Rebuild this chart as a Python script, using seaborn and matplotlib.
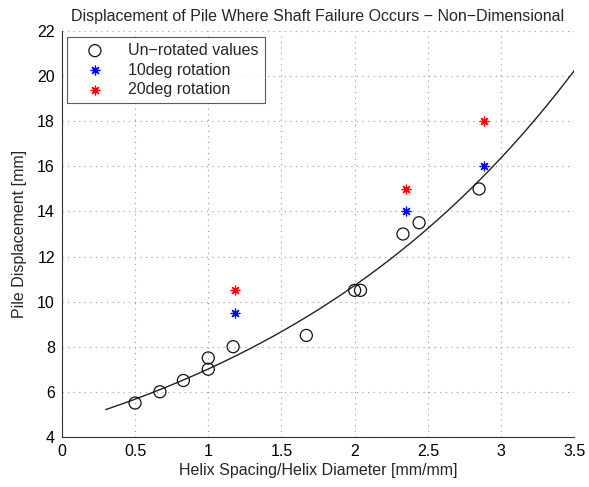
import numpy as np
import pandas as pd
import matplotlib
matplotlib.use("Agg")
import matplotlib.pyplot as plt
import seaborn as sns

# Data
unrot_x = [0.50, 0.67, 0.83, 1.00, 1.00, 1.17, 1.67, 2.00, 2.04, 2.33, 2.44, 2.85]
unrot_y = [5.5, 6.0, 6.5, 7.0, 7.5, 8.0, 8.5, 10.5, 10.5, 13.0, 13.5, 15.0]
rot10_x = [1.18, 2.35, 2.88]
rot10_y = [9.5, 14.0, 16.0]
rot20_x = [1.18, 2.35, 2.88]
rot20_y = [10.5, 15.0, 18.0]
fit_range = [0.3, 3.5]

title = "Displacement of Pile Where Shaft Failure Occurs \u2212 Non\u2212Dimensional"
xlabel = "Helix Spacing/Helix Diameter [mm/mm]"
ylabel = "Pile Displacement [mm]"
labels = ["Un\u2212rotated values", "10deg rotation", "20deg rotation"]
xticks = [0, 0.5, 1, 1.5, 2, 2.5, 3, 3.5]
xticklabels = ["0", "0.5", "1", "1.5", "2", "2.5", "3", "3.5"]
yticks = [4, 6, 8, 10, 12, 14, 16, 18, 20, 22]

sns.set_style("white")
plt.rcParams['font.family'] = ['Liberation Sans', 'DejaVu Sans']
plt.rcParams['axes.unicode_minus'] = True
fs = 11.5

fig = plt.figure(figsize=(5.89, 4.87), dpi=100)
ax = fig.add_axes([0.105, 0.103, 0.870, 0.833])

# exponential fit of un-rotated values (as in reference trend line)
b, lna = np.polyfit(np.array(unrot_x), np.log(np.array(unrot_y)), 1)
fx = np.linspace(fit_range[0], fit_range[1], 200)
fit_df = pd.DataFrame({"x": fx, "y": np.exp(lna) * np.exp(b * fx)})

df0 = pd.DataFrame({"x": unrot_x, "y": unrot_y})
df1 = pd.DataFrame({"x": rot10_x, "y": rot10_y})
df2 = pd.DataFrame({"x": rot20_x, "y": rot20_y})

sns.scatterplot(data=df0, x="x", y="y", ax=ax, marker="o", s=75,
                facecolor="none", edgecolor="#111111", linewidth=0.9,
                label=labels[0], zorder=3)
sns.scatterplot(data=df1, x="x", y="y", ax=ax, marker=(8, 2, 0), s=40,
                color="blue", edgecolor="blue", linewidth=0.9,
                label=labels[1], zorder=3)
sns.scatterplot(data=df2, x="x", y="y", ax=ax, marker=(8, 2, 0), s=40,
                color="red", edgecolor="red", linewidth=0.9,
                label=labels[2], zorder=3)
sns.lineplot(data=fit_df, x="x", y="y", ax=ax, color="#222222", linewidth=1.0,
             legend=False, zorder=2)

ax.set_xlim(0, 3.5)
ax.set_ylim(4, 22)
ax.set_xticks(xticks)
ax.set_xticklabels(xticklabels)
ax.set_yticks(yticks)
ax.tick_params(direction="in", length=4, width=0.8, labelsize=fs, colors="black",
               pad=5)
ax.grid(True, linestyle=(0, (1, 4)), color="#999999", linewidth=0.8)
for s in ["top", "right"]:
    ax.spines[s].set_visible(False)
for s in ["left", "bottom"]:
    ax.spines[s].set_color("#333333")
    ax.spines[s].set_linewidth(0.8)

ax.set_title(title, fontsize=fs, pad=7)
ax.set_xlabel(xlabel, fontsize=fs, labelpad=3)
ax.set_ylabel(ylabel, fontsize=fs, labelpad=7)

leg = ax.legend(loc="upper left", bbox_to_anchor=(0.01, 0.985), fontsize=fs,
                frameon=True, fancybox=False, edgecolor="#333333",
                handlelength=2.8, handletextpad=0.7, borderpad=0.35,
                labelspacing=0.3, borderaxespad=0)
leg.get_frame().set_linewidth(0.8)

fig.savefig("out.png", dpi=100, facecolor="white")
